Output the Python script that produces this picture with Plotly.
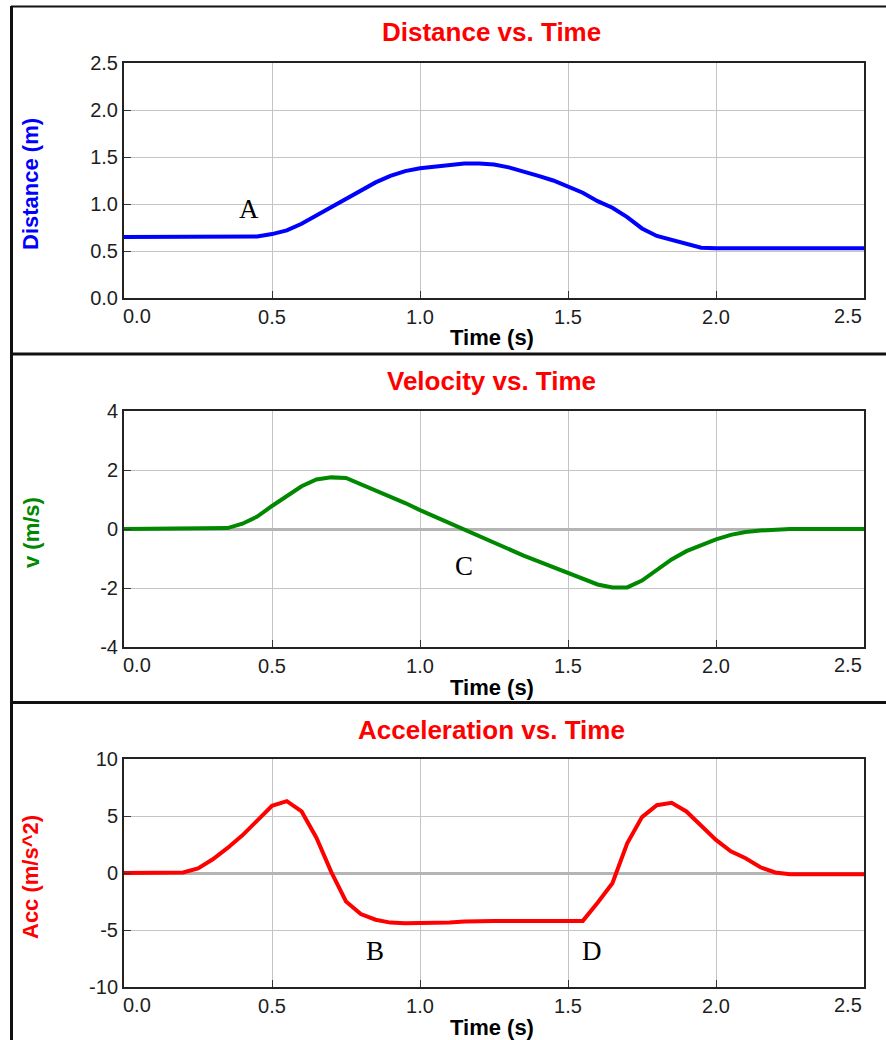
import plotly.graph_objects as go

# ---------------- data ----------------
time_s = [0.00, 0.05, 0.10, 0.15, 0.20, 0.25, 0.30, 0.35, 0.40, 0.45,
          0.50, 0.55, 0.60, 0.65, 0.70, 0.75, 0.80, 0.85, 0.90, 0.95,
          1.00, 1.05, 1.10, 1.15, 1.20, 1.25, 1.30, 1.35, 1.40, 1.45,
          1.50, 1.55, 1.60, 1.65, 1.70, 1.75, 1.80, 1.85, 1.90, 1.95,
          2.00, 2.05, 2.10, 2.15, 2.20, 2.25, 2.30, 2.35, 2.40, 2.45, 2.50]

distance_m = [0.65, 0.65, 0.65, 0.65, 0.65, 0.65, 0.65, 0.65, 0.65, 0.655,
              0.68, 0.72, 0.79, 0.88, 0.97, 1.06, 1.15, 1.23, 1.30, 1.35,
              1.38, 1.40, 1.42, 1.43, 1.43, 1.42, 1.39, 1.35, 1.30, 1.25,
              1.19, 1.12, 1.03, 0.96, 0.86, 0.74, 0.66, 0.62, 0.58, 0.535,
              0.53, 0.53, 0.53, 0.53, 0.53, 0.53, 0.53, 0.53, 0.53, 0.53, 0.53]

velocity_ms = [0, 0, 0, 0, 0, 0, 0, 0.03, 0.18, 0.42,
               0.78, 1.10, 1.45, 1.68, 1.75, 1.73, 1.52, 1.32, 1.10, 0.88,
               0.64, 0.42, 0.19, -0.03, -0.25, -0.47, -0.70, -0.90, -1.10, -1.30,
               -1.50, -1.70, -1.88, -1.98, -1.98, -1.75, -1.40, -1.03, -0.75, -0.55,
               -0.35, -0.20, -0.10, -0.05, -0.02, 0, 0, 0, 0, 0, 0]

accel_ms2 = [0, 0, 0, 0, 0.05, 0.4, 1.2, 2.2, 3.3, 4.6,
             5.9, 6.3, 5.4, 3.1, 0.1, -2.5, -3.6, -4.1, -4.35, -4.4,
             -4.4, -4.4, -4.35, -4.25, -4.2, -4.2, -4.2, -4.2, -4.2, -4.2,
             -4.2, -4.2, -2.6, -0.9, 2.6, 4.9, 5.95, 6.15, 5.4, 4.1,
             2.9, 1.9, 1.3, 0.5, 0.05, -0.1, -0.1, -0.1, -0.1, -0.1, -0.1]

x_ticks = [0.0, 0.5, 1.0, 1.5, 2.0, 2.5]
x_ticktext = ["", "0.5", "1.0", "1.5", "2.0", ""]

y_ticks = [[0.0, 0.5, 1.0, 1.5, 2.0, 2.5], [-4, -2, 0, 2, 4], [-10, -5, 0, 5, 10]]
y_ticktext = [["0.0", "0.5", "1.0", "1.5", "2.0", "2.5"],
              ["-4", "-2", "0", "2", "4"],
              ["-10", "-5", "0", "5", "10"]]

panel_titles = ["Distance vs. Time", "Velocity vs. Time", "Acceleration vs. Time"]
y_titles = ["Distance (m)", "v (m/s)", "Acc (m/s^2)"]
x_title = "Time (s)"

point_labels = [("A", 1, 0.422, 0.95), ("C", 2, 1.149, -1.25),
                ("B", 3, 0.848, -6.8), ("D", 3, 1.581, -6.8)]

# ---------------- layout helpers ----------------
W, H = 886, 1040
def px(x):
    return x / W
def py(y):
    return 1 - y / H

boxes = [(63, 298), (411, 647), (759, 987)]
x_left, x_right = 124, 864
y_ranges = [[0, 2.5], [-4, 4], [-10, 10]]
colors = ["#0000ff", "#008800", "#ff0000"]
title_y = [32, 381, 730]
ytitle_pos = [(30, 184), (31, 533), (30, 877)]

series = [distance_m, velocity_ms, accel_ms2]

fig = go.Figure()
tick_font = dict(family="Liberation Sans, Arial", size=20, color="#1e1e1e")

annotations = []
for i in range(3):
    n = "" if i == 0 else str(i + 1)
    fig.add_trace(go.Scatter(x=time_s, y=series[i], mode="lines",
                             line=dict(color=colors[i], width=4),
                             xaxis="x" + n, yaxis="y" + n, hoverinfo="skip"))
    top, bot = boxes[i]
    fig.layout["xaxis" + n] = dict(
        domain=[px(x_left), px(x_right)], range=[0, 2.5], anchor="y" + n,
        tickmode="array", tickvals=x_ticks, ticktext=x_ticktext,
        ticks="inside", ticklen=7, tickwidth=1, tickcolor="#333",
        showline=True, mirror=True, linecolor="#222", linewidth=2,
        showgrid=True, gridcolor="#c4c4c4", gridwidth=1, zeroline=False,
        tickfont=tick_font, fixedrange=True, automargin=False)
    fig.layout["yaxis" + n] = dict(
        domain=[py(bot), py(top)], range=y_ranges[i], anchor="x" + n,
        tickmode="array", tickvals=y_ticks[i], ticktext=y_ticktext[i],
        ticks="inside", ticklen=7, tickwidth=1, tickcolor="#333",
        showline=True, mirror=True, linecolor="#222", linewidth=2,
        showgrid=True, gridcolor="#c4c4c4", gridwidth=1,
        zeroline=(i > 0), zerolinecolor="#b4b4b4", zerolinewidth=3,
        tickfont=tick_font, fixedrange=True, automargin=False)
    annotations.append(dict(text=panel_titles[i], x=px(491), y=py(title_y[i]),
                            xref="paper", yref="paper", showarrow=False,
                            xanchor="center", yanchor="middle",
                            font=dict(family="Liberation Sans, Arial", size=26,
                                      color="#ff0000", weight="bold")))
    annotations.append(dict(text=x_title, x=px(492), y=py(bot + 40),
                            xref="paper", yref="paper", showarrow=False,
                            xanchor="center", yanchor="middle",
                            font=dict(family="Liberation Sans, Arial", size=22,
                                      color="#000000", weight="bold")))
    annotations.append(dict(text=y_titles[i], x=px(ytitle_pos[i][0]), y=py(ytitle_pos[i][1]),
                            xref="paper", yref="paper", showarrow=False, textangle=-90,
                            xanchor="center", yanchor="middle",
                            font=dict(family="Liberation Sans, Arial", size=22,
                                      color=colors[i], weight="bold")))
    annotations.append(dict(text="0.0", x=px(137), y=py(bot + 18),
                            xref="paper", yref="paper", showarrow=False,
                            xanchor="center", yanchor="middle", font=tick_font))
    annotations.append(dict(text="2.5", x=px(848), y=py(bot + 18),
                            xref="paper", yref="paper", showarrow=False,
                            xanchor="center", yanchor="middle", font=tick_font))

for lab, panel, xv, yv in point_labels:
    n = "" if panel == 1 else str(panel)
    annotations.append(dict(text=lab, x=xv, y=yv, xref="x" + n, yref="y" + n,
                            showarrow=False, xanchor="center", yanchor="middle",
                            font=dict(family="Liberation Serif, Times New Roman",
                                      size=27, color="#000000")))

shapes = [
    dict(type="line", xref="paper", yref="paper", x0=px(11), x1=1, y0=py(6.5), y1=py(6.5),
         line=dict(color="#111", width=2)),
    dict(type="line", xref="paper", yref="paper", x0=px(11), x1=1, y0=py(354), y1=py(354),
         line=dict(color="#111", width=3)),
    dict(type="line", xref="paper", yref="paper", x0=px(11), x1=1, y0=py(702.5), y1=py(702.5),
         line=dict(color="#111", width=3)),
    dict(type="line", xref="paper", yref="paper", x0=px(11.5), x1=px(11.5), y0=py(6), y1=0,
         line=dict(color="#111", width=3)),
]

fig.update_layout(width=W, height=H, margin=dict(l=0, r=0, t=0, b=0, pad=0, autoexpand=False),
                  paper_bgcolor="#ffffff", plot_bgcolor="#ffffff",
                  showlegend=False, annotations=annotations, shapes=shapes)

fig.write_html("out.html", config={"displayModeBar": False},
               post_script="document.body.style.margin='0';document.body.style.padding='0';"
                           "document.body.style.overflow='hidden';")
